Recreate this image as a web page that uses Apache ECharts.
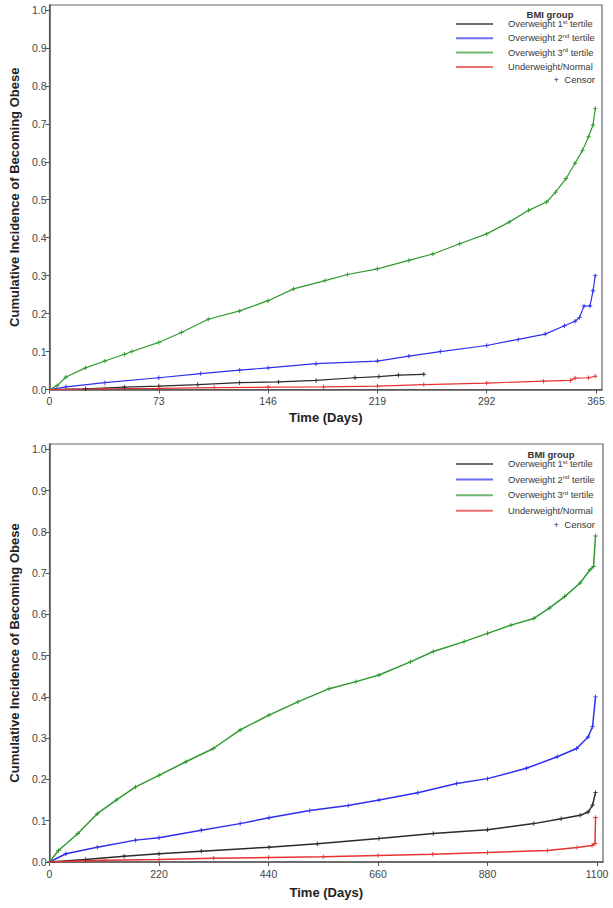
<!DOCTYPE html>
<html>
<head>
<meta charset="utf-8">
<script src="https://cdn.jsdelivr.net/npm/echarts@6/dist/echarts.min.js"></script>
<style>
html,body{margin:0;padding:0;background:#fff;}
#chart{width:613px;height:908px;}
</style>
</head>
<body>
<div id="chart"></div>
<script>
// ---------- data ----------
const groupNames = ['Overweight 1st tertile', 'Overweight 2nd tertile', 'Overweight 3rd tertile', 'Underweight/Normal'];
const groupColors = ['#2b2b2b', '#2f2fee', '#2f9a2f', '#e53333'];

const yTicks = [0, 0.1, 0.2, 0.3, 0.4, 0.5, 0.6, 0.7, 0.8, 0.9, 1.0];
const topXTicks = [0, 73, 146, 219, 292, 365];
const bottomXTicks = [0, 220, 440, 660, 880, 1100];

// Panel 1 (365 days)
const top1stDays = [0, 24, 50, 73, 99, 127, 153, 178, 204, 220, 233, 250];
const top1stVals = [0, 0.002, 0.006, 0.009, 0.013, 0.018, 0.020, 0.024, 0.031, 0.034, 0.038, 0.040];
const top2ndDays = [0, 11, 37, 73, 101, 127, 146, 178, 219, 240, 261, 292, 313, 331, 344, 351, 354, 357, 361, 363, 364.5];
const top2ndVals = [0, 0.007, 0.018, 0.031, 0.042, 0.051, 0.057, 0.068, 0.075, 0.088, 0.100, 0.116, 0.132, 0.146, 0.168, 0.180, 0.190, 0.220, 0.220, 0.260, 0.300];
const top3rdDays = [0, 5, 11, 24, 37, 50, 55, 73, 88, 106, 127, 146, 163, 184, 199, 219, 240, 256, 274, 292, 307, 320, 332, 338, 345, 351, 356, 360, 363, 364.5];
const top3rdVals = [0, 0.010, 0.033, 0.057, 0.075, 0.093, 0.100, 0.124, 0.150, 0.185, 0.207, 0.234, 0.265, 0.287, 0.303, 0.318, 0.340, 0.357, 0.384, 0.410, 0.441, 0.472, 0.494, 0.520, 0.556, 0.596, 0.630, 0.666, 0.697, 0.740];
const topNormDays = [0, 37, 73, 110, 146, 183, 219, 250, 292, 330, 348, 351, 360, 364.5];
const topNormVals = [0, 0.002, 0.003, 0.005, 0.006, 0.007, 0.009, 0.013, 0.017, 0.022, 0.024, 0.030, 0.031, 0.035];

// Panel 2 (1100 days)
const bot1stDays = [0, 72, 150, 220, 305, 441, 538, 662, 771, 880, 973, 1028, 1066, 1082, 1091, 1097];
const bot1stVals = [0, 0.006, 0.014, 0.020, 0.026, 0.036, 0.044, 0.057, 0.069, 0.078, 0.093, 0.105, 0.113, 0.121, 0.138, 0.168];
const bot2ndDays = [0, 33, 96, 173, 220, 305, 383, 441, 523, 600, 662, 740, 818, 880, 958, 1020, 1059, 1082, 1091, 1097];
const bot2ndVals = [0, 0.020, 0.036, 0.053, 0.059, 0.077, 0.093, 0.107, 0.125, 0.137, 0.150, 0.168, 0.190, 0.202, 0.227, 0.255, 0.275, 0.303, 0.328, 0.400];
const bot3rdDays = [0, 18, 57, 96, 134, 173, 220, 274, 329, 383, 441, 499, 562, 616, 662, 725, 771, 833, 880, 927, 973, 1004, 1035, 1066, 1086, 1093, 1097];
const bot3rdVals = [0, 0.028, 0.069, 0.117, 0.150, 0.182, 0.210, 0.243, 0.275, 0.320, 0.356, 0.388, 0.420, 0.437, 0.453, 0.485, 0.510, 0.534, 0.554, 0.574, 0.590, 0.615, 0.643, 0.676, 0.708, 0.716, 0.790];
const botNormDays = [0, 110, 220, 330, 440, 550, 660, 770, 880, 1000, 1060, 1090, 1096, 1097];
const botNormVals = [0, 0.004, 0.006, 0.009, 0.011, 0.013, 0.016, 0.019, 0.023, 0.028, 0.035, 0.040, 0.045, 0.108];

// ---------- build ----------
const FONT = '"Liberation Sans", Arial, sans-serif';
const zip = (a, b) => a.map((d, i) => [d, b[i]]);
const plusSym = 'path://M4,0h2v4h4v2h-4v4h-2v-4h-4v-2h4z';

function mkSeries(name, color, days, vals, gi, width) {
  return {
    type: 'line', name: name, xAxisIndex: gi, yAxisIndex: gi,
    data: zip(days, vals),
    showSymbol: true, symbol: plusSym, symbolSize: 4.5,
    itemStyle: { color: color },
    lineStyle: { color: color, width: width },
    emphasis: { disabled: true },
    animation: false
  };
}

const topSets = [[top1stDays, top1stVals], [top2ndDays, top2ndVals], [top3rdDays, top3rdVals], [topNormDays, topNormVals]];
const botSets = [[bot1stDays, bot1stVals], [bot2ndDays, bot2ndVals], [bot3rdDays, bot3rdVals], [botNormDays, botNormVals]];

const series = [];
topSets.forEach((s, i) => series.push(mkSeries(groupNames[i], groupColors[i], s[0], s[1], 0, 1.2)));
botSets.forEach((s, i) => series.push(mkSeries(groupNames[i], groupColors[i], s[0], s[1], 1, 1.5)));

function xAxis(gi, maxV, ticks, interval, gap) {
  return {
    type: 'value', gridIndex: gi, min: 0, max: maxV, interval: interval,
    name: 'Time (Days)', nameLocation: 'middle', nameGap: gap,
    nameTextStyle: { fontFamily: FONT, fontWeight: 'bold', fontSize: 13, color: '#222' },
    axisLine: { show: true, lineStyle: { color: '#555', width: 1.5 } },
    axisTick: { show: true, length: 4, customValues: ticks, lineStyle: { color: '#555' } },
    axisLabel: { customValues: ticks, fontFamily: FONT, fontSize: 10.5, color: '#444', margin: 6,
                 formatter: v => String(v) },
    splitLine: { show: false }
  };
}
function yAxis(gi, maxV, gap) {
  return {
    type: 'value', gridIndex: gi, min: 0, max: maxV, interval: 0.1,
    name: 'Cumulative Incidence of Becoming Obese', nameLocation: 'middle', nameGap: gap, nameRotate: 90,
    nameTextStyle: { fontFamily: FONT, fontWeight: 'bold', fontSize: 13, color: '#222' },
    axisLine: { show: true, lineStyle: { color: '#555', width: 1.5 } },
    axisTick: { show: true, length: 4, customValues: yTicks, lineStyle: { color: '#555' } },
    axisLabel: { customValues: yTicks, fontFamily: FONT, fontSize: 10.5, color: '#444', margin: 3,
                 formatter: v => v.toFixed(1) },
    splitLine: { show: false }
  };
}

function legend(top, gap) {
  return {
    orient: 'vertical', left: 456, top: top, itemGap: gap, padding: 0,
    itemWidth: 37, itemHeight: 2, itemTextGap: 5, icon: 'rect',
    data: groupNames.map((n, i) => ({ name: n, itemStyle: { color: groupColors[i], opacity: 0.7 } })),
    textStyle: { fontFamily: FONT, fontSize: 9.3, color: '#3a3a3a', lineHeight: 11,
                 rich: { g: { width: 10, lineHeight: 11 },
                         s: { fontFamily: FONT, fontSize: 6, color: '#3a3a3a', verticalAlign: 'top', lineHeight: 7 } } },
    formatter: n => '{g|}' + n.replace(/(\d)(st|nd|rd)\b/, '$1{s|$2}'),
    selectedMode: false
  };
}

function txt(x, y, text, bold, align) {
  return { type: 'text', x: x, y: y, silent: true,
    style: { text: text, fill: '#333', font: (bold ? 'bold ' : '') + '9.5px ' + FONT,
             textAlign: align, textVerticalAlign: 'middle' } };
}

const option = {
  backgroundColor: '#fff',
  animation: false,
  grid: [
    { left: 42, top: 5, width: 560, height: 384.5, show: true, borderColor: '#666', borderWidth: 1.2, containLabel: false },
    { left: 42, top: 444, width: 561, height: 418, show: true, borderColor: '#666', borderWidth: 1.2, containLabel: false }
  ],
  xAxis: [xAxis(0, 369, topXTicks, 73, 21), xAxis(1, 1112, bottomXTicks, 220, 24)],
  yAxis: [yAxis(0, 1.013, 26), yAxis(1, 1.0128, 26)],
  legend: [legend(18.5, 3.3), legend(458.5, 4.6)],
  graphic: [
    txt(550, 14, 'BMI group', true, 'center'),
    txt(595, 79, '+  Censor', false, 'right'),
    txt(551, 454, 'BMI group', true, 'center'),
    txt(595, 524, '+  Censor', false, 'right')
  ],
  series: series
};

const chart = echarts.init(document.getElementById('chart'), null, { renderer: 'svg' });
chart.setOption(option);
</script>
</body>
</html>
